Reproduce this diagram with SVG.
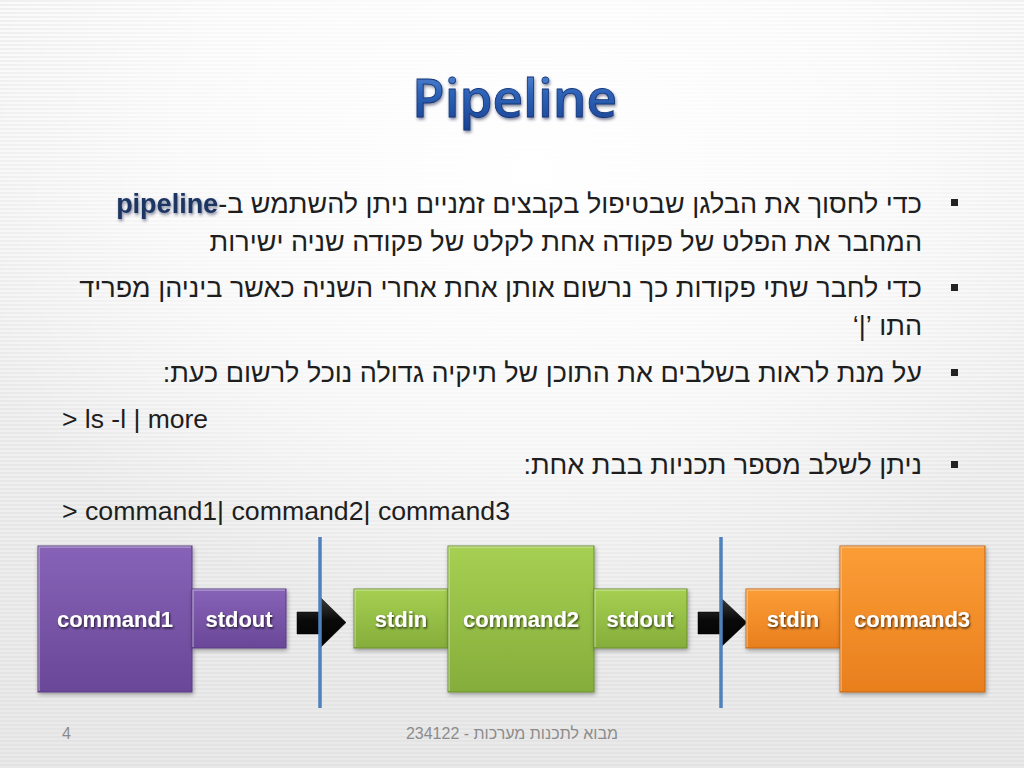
<svg xmlns="http://www.w3.org/2000/svg" width="1024" height="768" viewBox="0 0 1024 768">
<defs>
<style>
.he{font-family:"Liberation Sans","DejaVu Sans",sans-serif;font-size:27px;fill:#1e1e1e}
.lt{font-family:"Liberation Sans","DejaVu Sans",sans-serif;font-size:26px;fill:#1e1e1e}
.lbl{font-family:"Liberation Sans",Arial,sans-serif;font-size:22px;font-weight:bold;fill:#ffffff;text-anchor:middle;filter:url(#ts)}
.ft{font-family:"Liberation Sans","DejaVu Sans",sans-serif;font-size:16px;fill:#8c8c8c}
.pur{fill:url(#gPur);stroke:#5b3d86;stroke-width:1}
.grn{fill:url(#gGrn);stroke:#6b9130;stroke-width:1}
.org{fill:url(#gOrg);stroke:#c56712;stroke-width:1}
.hl{fill:none;stroke:#ffffff;stroke-opacity:0.35;stroke-width:1.5}
.div{stroke:#4f81bd;stroke-width:3.5}
.arr{fill:url(#gArr);stroke:#000;stroke-width:0.5}
.bul{fill:#222}
</style>
<linearGradient id="bg" x1="0" y1="0" x2="0" y2="1">
<stop offset="0" stop-color="#fafafa"/>
<stop offset="1" stop-color="#e9e9e9"/>
</linearGradient>
<radialGradient id="glow" cx="0.52" cy="0.22" r="0.6">
<stop offset="0" stop-color="#ffffff" stop-opacity="1"/>
<stop offset="0.6" stop-color="#ffffff" stop-opacity="0.6"/>
<stop offset="1" stop-color="#ffffff" stop-opacity="0"/>
</radialGradient>
<pattern id="stripes" width="8" height="4" patternUnits="userSpaceOnUse">
<rect x="0" y="0" width="8" height="2" fill="#d8d8d8"/>
</pattern>
<linearGradient id="gPur" x1="0" y1="0" x2="0" y2="1">
<stop offset="0" stop-color="#8763b8"/>
<stop offset="1" stop-color="#6a4797"/>
</linearGradient>
<linearGradient id="gGrn" x1="0" y1="0" x2="0" y2="1">
<stop offset="0" stop-color="#a6d052"/>
<stop offset="1" stop-color="#85ad3b"/>
</linearGradient>
<linearGradient id="gOrg" x1="0" y1="0" x2="0" y2="1">
<stop offset="0" stop-color="#fb9d36"/>
<stop offset="1" stop-color="#e97f1e"/>
</linearGradient>
<linearGradient id="gArr" x1="0" y1="0" x2="0" y2="1">
<stop offset="0" stop-color="#3a3a3a"/>
<stop offset="0.45" stop-color="#0a0a0a"/>
<stop offset="1" stop-color="#000"/>
</linearGradient>
<linearGradient id="gTitle" x1="0" y1="0" x2="0" y2="1">
<stop offset="0" stop-color="#6a98dc"/>
<stop offset="0.45" stop-color="#2e63b8"/>
<stop offset="1" stop-color="#173f8e"/>
</linearGradient>
<filter id="sh" x="-10%" y="-10%" width="130%" height="130%">
<feDropShadow dx="1" dy="2" stdDeviation="2" flood-color="#000" flood-opacity="0.35"/>
</filter>
<filter id="ts" x="-10%" y="-20%" width="120%" height="150%">
<feDropShadow dx="1" dy="1.5" stdDeviation="0.8" flood-color="#000" flood-opacity="0.7"/>
</filter>
<filter id="tsh" x="-10%" y="-20%" width="120%" height="150%">
<feDropShadow dx="1" dy="2" stdDeviation="1.5" flood-color="#1a2a50" flood-opacity="0.55"/>
</filter>
</defs>

<!-- background -->
<rect width="1024" height="768" fill="url(#bg)"/>
<rect width="1024" height="768" fill="url(#stripes)" opacity="0.35"/>
<rect width="1024" height="768" fill="url(#glow)"/>

<!-- title -->
<text x="412" y="117" font-family="'Open Sans','Liberation Sans',sans-serif" font-weight="600" font-size="52" textLength="205" lengthAdjust="spacingAndGlyphs" fill="url(#gTitle)" stroke="#123478" stroke-width="0.8" filter="url(#tsh)">Pipeline</text>

<!-- bullets -->
<rect class="bul" x="951" y="199" width="7" height="7"/>
<rect class="bul" x="951" y="284" width="7" height="7"/>
<rect class="bul" x="951" y="369" width="7" height="7"/>
<rect class="bul" x="951" y="461" width="7" height="7"/>

<!-- body text -->
<text class="he" x="922" y="213" direction="rtl" text-anchor="start">כדי לחסוך את הבלגן שבטיפול בקבצים זמניים ניתן להשתמש ב-<tspan font-weight="bold" fill="#1f3664" filter="url(#tsh)">pipeline</tspan></text>
<text class="he" x="922" y="251" direction="rtl" text-anchor="start">המחבר את הפלט של פקודה אחת לקלט של פקודה שניה ישירות</text>
<text class="he" x="922" y="297" direction="rtl" text-anchor="start">כדי לחבר שתי פקודות כך נרשום אותן אחת אחרי השניה כאשר ביניהן מפריד</text>
<text class="he" x="922" y="335" direction="rtl" text-anchor="start">התו ’|‘</text>
<text class="he" x="922" y="382" direction="rtl" text-anchor="start">על מנת לראות בשלבים את התוכן של תיקיה גדולה נוכל לרשום כעת:</text>
<text class="lt" x="62" y="428" textLength="146" lengthAdjust="spacingAndGlyphs">&gt; ls -l | more</text>
<text class="he" x="922" y="474" direction="rtl" text-anchor="start">ניתן לשלב מספר תכניות בבת אחת:</text>
<text class="lt" x="62" y="520" textLength="448" lengthAdjust="spacingAndGlyphs">&gt; command1| command2| command3</text>

<!-- divider lines and arrows -->
<g id="connectors">
<path class="arr" d="M297,612 H321 V598 L346,622.5 L321,647 V634 H297 Z"/>
<path class="arr" d="M698,612 H721 V598 L747,622.5 L721,647 V634 H698 Z"/>
<line class="div" x1="320" y1="537" x2="320" y2="708"/>
<line class="div" x1="721" y1="537" x2="721" y2="708"/>
</g>

<!-- nodes -->
<g id="n-command1" filter="url(#sh)">
<rect class="pur" x="38" y="546" width="154" height="146"/>
<path class="hl" d="M39,691 V547 H191"/>
<text class="lbl" x="115" y="627">command1</text>
</g>
<g id="n-stdout1" filter="url(#sh)">
<rect class="pur" x="192" y="589" width="94" height="59"/>
<path class="hl" d="M193,647 V590 H285"/>
<text class="lbl" x="239" y="627">stdout</text>
</g>
<g id="n-stdin2" filter="url(#sh)">
<rect class="grn" x="354" y="589" width="94" height="59"/>
<path class="hl" d="M355,647 V590 H447"/>
<text class="lbl" x="401" y="627">stdin</text>
</g>
<g id="n-command2" filter="url(#sh)">
<rect class="grn" x="448" y="546" width="146" height="146"/>
<path class="hl" d="M449,691 V547 H593"/>
<text class="lbl" x="521" y="627">command2</text>
</g>
<g id="n-stdout2" filter="url(#sh)">
<rect class="grn" x="594" y="589" width="93" height="59"/>
<path class="hl" d="M595,647 V590 H686"/>
<text class="lbl" x="640" y="627">stdout</text>
</g>
<g id="n-stdin3" filter="url(#sh)">
<rect class="org" x="746" y="589" width="94" height="59"/>
<path class="hl" d="M747,647 V590 H839"/>
<text class="lbl" x="793" y="627">stdin</text>
</g>
<g id="n-command3" filter="url(#sh)">
<rect class="org" x="840" y="546" width="145" height="146"/>
<path class="hl" d="M841,691 V547 H984"/>
<text class="lbl" x="912" y="627">command3</text>
</g>

<!-- footer -->
<text class="ft" x="62" y="739">4</text>
<text class="ft" x="512" y="739" text-anchor="middle" direction="rtl">מבוא לתכנות מערכות - 234122</text>
</svg>
